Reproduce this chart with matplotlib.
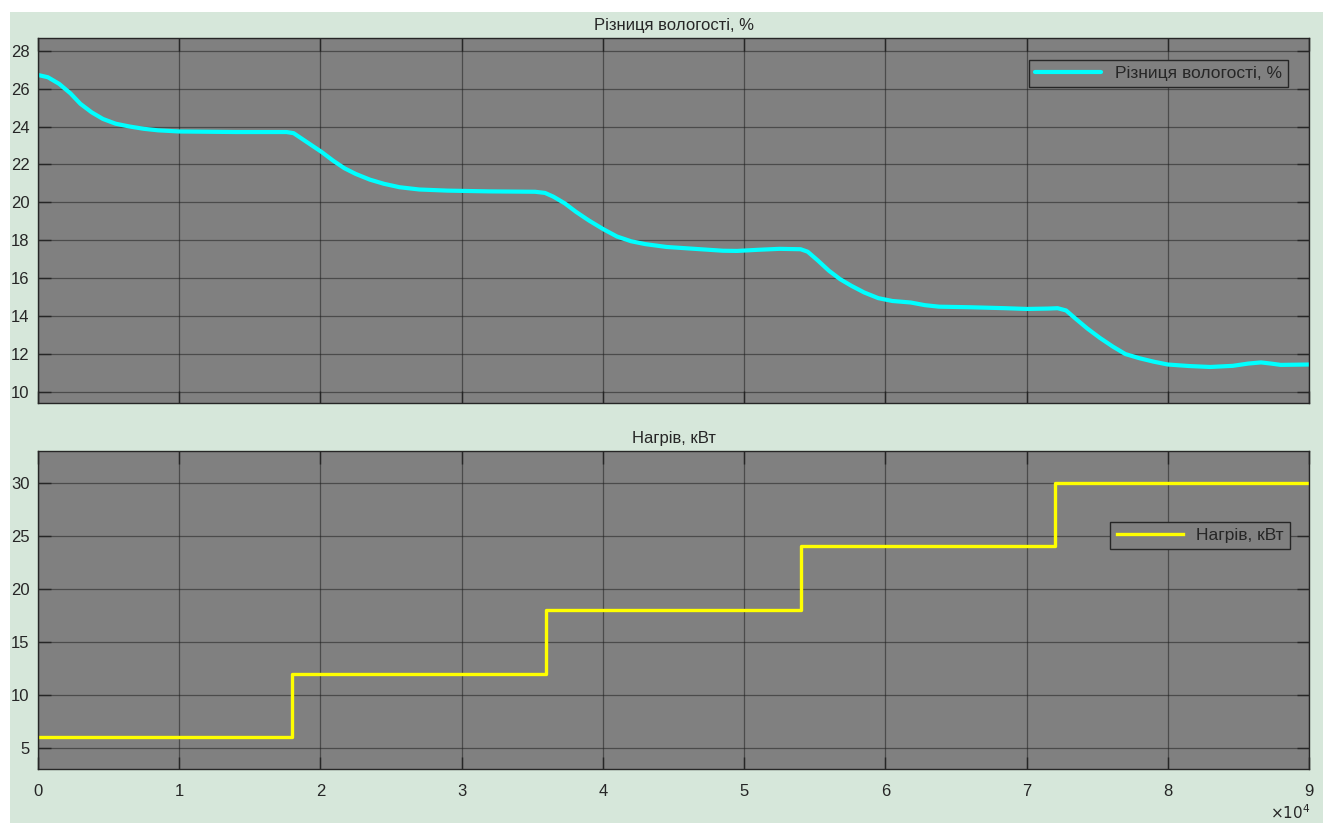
import numpy as np
import matplotlib
matplotlib.use("Agg")
import matplotlib.pyplot as plt
from matplotlib.patches import Rectangle

plt.rcParams['font.family'] = ['Liberation Sans', 'DejaVu Sans']

# humidity difference (time in s)
t_hum = [0, 700, 1500, 2300, 3000, 3800, 4600, 5500, 6500, 7500, 8500, 10000, 14000,
         17600, 18100, 18700, 19400, 20100, 20900, 21700, 22500, 23500, 24500, 25600,
         27000, 29000, 32000, 35200, 35900, 36500, 37300, 38100, 39000, 40000, 41000,
         42000, 43000, 44500, 46500, 48500, 49500, 51000, 52500, 54000, 54500, 55200,
         56000, 56800, 57600, 58500, 59500, 60500, 61800, 62800, 63800, 66000, 68500,
         70000, 71500, 72200, 72800, 73500, 74300, 75200, 76100, 77000, 78000, 79000,
         80000, 81500, 83000, 84600, 85700, 86600, 87300, 88000, 89000, 90000]
hum = [26.72, 26.6, 26.25, 25.75, 25.2, 24.75, 24.4, 24.15, 24.0, 23.88, 23.8, 23.74, 23.71,
       23.71, 23.65, 23.35, 23.0, 22.65, 22.2, 21.8, 21.5, 21.2, 20.98, 20.8,
       20.68, 20.62, 20.58, 20.56, 20.5, 20.3, 19.95, 19.5, 19.05, 18.6, 18.2,
       17.95, 17.8, 17.65, 17.55, 17.45, 17.44, 17.5, 17.55, 17.53, 17.4, 16.95,
       16.4, 15.95, 15.6, 15.25, 14.95, 14.8, 14.72, 14.58, 14.5, 14.47, 14.42,
       14.38, 14.4, 14.42, 14.3, 13.85, 13.35, 12.85, 12.4, 12.0, 11.78, 11.6,
       11.45, 11.37, 11.32, 11.38, 11.5, 11.56, 11.5, 11.43, 11.44, 11.45]

# heating power steps
t_heat = [0, 18000, 36000, 54000, 72000, 90000]
heat = [6, 12, 18, 24, 30, 30]

title_top = "Різниця вологості, %"
title_bot = "Нагрів, кВт"
xticks = np.arange(0, 90001, 10000)
xlabels = [str(i) for i in range(10)]

bg = '#d6e7da'
ax_bg = '#808080'

fig = plt.figure(figsize=(13.23, 8.23), dpi=100, facecolor='white')
fig.patches.append(Rectangle((10 / 1323, 0), 1, 1 - 12 / 823, transform=fig.transFigure,
                             facecolor=bg, edgecolor='none', zorder=-10))

ax1 = fig.add_axes([38 / 1323, 1 - 403 / 823, 1271 / 1323, 365 / 823])
ax2 = fig.add_axes([38 / 1323, 1 - 769 / 823, 1271 / 1323, 318 / 823])

ax1.plot(t_hum, hum, color='#00ffff', lw=3.0, label=title_top,
         solid_capstyle='round', solid_joinstyle='round')
ax2.step(t_heat, heat, where='post', color='#ffff00', lw=2.4, label=title_bot)

ax1.set_ylim(9.42, 28.67)
ax1.set_yticks(np.arange(10, 29, 2))
ax2.set_ylim(3, 33)
ax2.set_yticks([5, 10, 15, 20, 25, 30])

for ax, title in [(ax1, title_top), (ax2, title_bot)]:
    ax.set_facecolor(ax_bg)
    ax.set_xlim(0, 90000)
    ax.set_xticks(xticks)
    ax.grid(True, color='#202020', alpha=0.55, lw=0.9)
    ax.set_axisbelow(True)
    ax.tick_params(direction='in', length=9, width=1, top=True, right=True,
                   labelsize=12, colors='#262626', pad=6)
    ax.tick_params(axis='x', pad=11)
    for s in ax.spines.values():
        s.set_color('#262626')
        s.set_linewidth(1)
    ax.set_title(title, fontsize=12, color='#262626', pad=6)

ax1.set_xticklabels([])
ax2.set_xticklabels(xlabels)

leg_kw = dict(fontsize=12.5, handlelength=3.8, fancybox=False, framealpha=1,
              facecolor=ax_bg, edgecolor='#262626', borderpad=0.35, labelcolor='#262626')
l1 = ax1.legend(loc='upper right', bbox_to_anchor=(1 - 21 / 1271, 1 - 22 / 365), borderaxespad=0, **leg_kw)
l2 = ax2.legend(loc='center right', bbox_to_anchor=(1 - 19 / 1271, 0.734), borderaxespad=0, **leg_kw)
for l in (l1, l2):
    l.get_frame().set_linewidth(1)

fig.text(1310 / 1323, 1 - 813 / 823, r'$\times10^{4}$', ha='right', va='center',
         fontsize=11, color='#262626')

fig.savefig('out.png', dpi=100, facecolor=fig.get_facecolor())
